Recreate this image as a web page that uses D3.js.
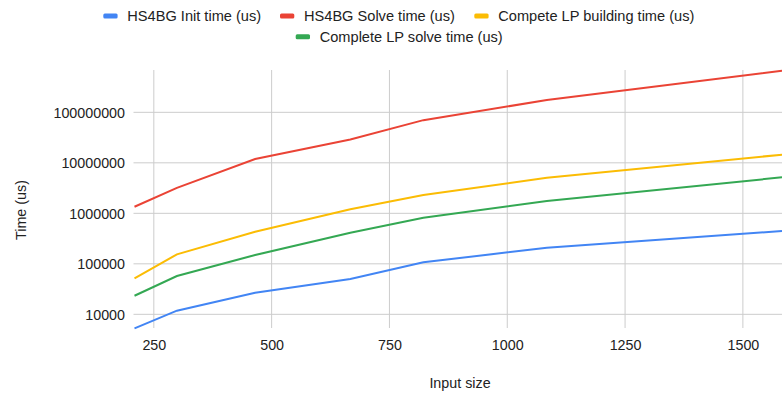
<!DOCTYPE html>
<html>
<head>
<meta charset="utf-8">
<script src="https://cdn.jsdelivr.net/npm/d3@7"></script>
<style>
  body { margin: 0; background: #fff; }
  text { font-family: "Liberation Sans", Arial, sans-serif; }
</style>
</head>
<body>
<div id="chart"></div>
<script>
// input sizes (x)
var inputSizes = [209, 299, 465, 667, 822, 1084, 1583];
// series values (us)
var initTime   = [5280, 11800, 26800, 50000, 107000, 208000, 447000];
var solveTime  = [1350000, 3200000, 11900000, 29000000, 70000000, 175000000, 667000000];
var buildTime  = [51600, 154000, 432000, 1200000, 2300000, 5070000, 14500000];
var lpSolve    = [23300, 57300, 149000, 413000, 818000, 1750000, 5160000];

var seriesNames  = ["HS4BG Init time (us)", "HS4BG Solve time (us)", "Compete LP building time (us)", "Complete LP solve time (us)"];
var seriesColors = ["#4285f4", "#ea4335", "#fbbc04", "#34a853"];
var seriesData   = [initTime, solveTime, buildTime, lpSolve];

var xTicks = [250, 500, 750, 1000, 1250, 1500];
var yTicks = [10000, 100000, 1000000, 10000000, 100000000];

var W = 782, H = 396;
var plotL = 134.5, plotR = 782, plotT = 70, plotB = 328;

var svg = d3.select("#chart").append("svg")
  .attr("width", W)
  .attr("height", H);

var x = d3.scaleLinear()
  .domain([209, 1583])
  .range([plotL, plotR]);

var y = d3.scaleLog()
  .domain([Math.pow(10, 3.729), Math.pow(10, 8.838)])
  .range([plotB, plotT]);

// gridlines
svg.append("g")
  .selectAll("line")
  .data(xTicks)
  .enter().append("line")
  .attr("x1", d => x(d)).attr("x2", d => x(d))
  .attr("y1", plotT).attr("y2", plotB)
  .attr("stroke", "#cccccc").attr("stroke-width", 1);

svg.append("g")
  .selectAll("line")
  .data(yTicks)
  .enter().append("line")
  .attr("x1", plotL - 1).attr("x2", plotR)
  .attr("y1", d => y(d)).attr("y2", d => y(d))
  .attr("stroke", "#cccccc").attr("stroke-width", 1);

// axis labels
var xAxis = svg.append("g")
  .attr("transform", "translate(0,350)")
  .call(d3.axisBottom(x).tickValues(xTicks).tickSize(0).tickPadding(0).tickFormat(d3.format("d")));
xAxis.select(".domain").remove();
xAxis.selectAll("text").attr("font-size", 14.3).attr("fill", "#222").attr("y", 0).attr("dy", "0");

var yAxis = svg.append("g")
  .attr("transform", "translate(125,0)")
  .call(d3.axisLeft(y).tickValues(yTicks).tickSize(0).tickPadding(0).tickFormat(d3.format("d")));
yAxis.select(".domain").remove();
yAxis.selectAll("text").attr("font-size", 14.3).attr("fill", "#222").attr("x", 0).attr("dy", "0.36em");

svg.append("text")
  .attr("x", 460)
  .attr("y", 388)
  .attr("text-anchor", "middle")
  .attr("font-size", 14.3)
  .attr("fill", "#222")
  .text("Input size");

svg.append("text")
  .attr("transform", "translate(25.5,210) rotate(-90)")
  .attr("text-anchor", "middle")
  .attr("font-size", 14.3)
  .attr("fill", "#222")
  .text("Time (us)");

// lines
var line = d3.line()
  .x((d, i) => x(inputSizes[i]))
  .y(d => y(d));

svg.append("g")
  .selectAll("path")
  .data(seriesData)
  .enter().append("path")
  .attr("d", d => line(d))
  .attr("fill", "none")
  .attr("stroke", (d, i) => seriesColors[i])
  .attr("stroke-width", 2);

// legend
var legendPos = [[103.3, 16], [280, 16], [474.3, 16], [295.7, 36.7]];
var leg = svg.append("g")
  .selectAll("g")
  .data(seriesNames)
  .enter().append("g")
  .attr("transform", (d, i) => "translate(" + legendPos[i][0] + "," + legendPos[i][1] + ")");
leg.append("rect")
  .attr("x", 0).attr("y", -2.5)
  .attr("width", 14.3).attr("height", 5)
  .attr("rx", 1.5)
  .attr("fill", (d, i) => seriesColors[i]);
leg.append("text")
  .attr("x", 24).attr("y", 0)
  .attr("dy", "0.35em")
  .attr("font-size", 14.6)
  .attr("fill", "#222")
  .text(d => d);
</script>
</body>
</html>
